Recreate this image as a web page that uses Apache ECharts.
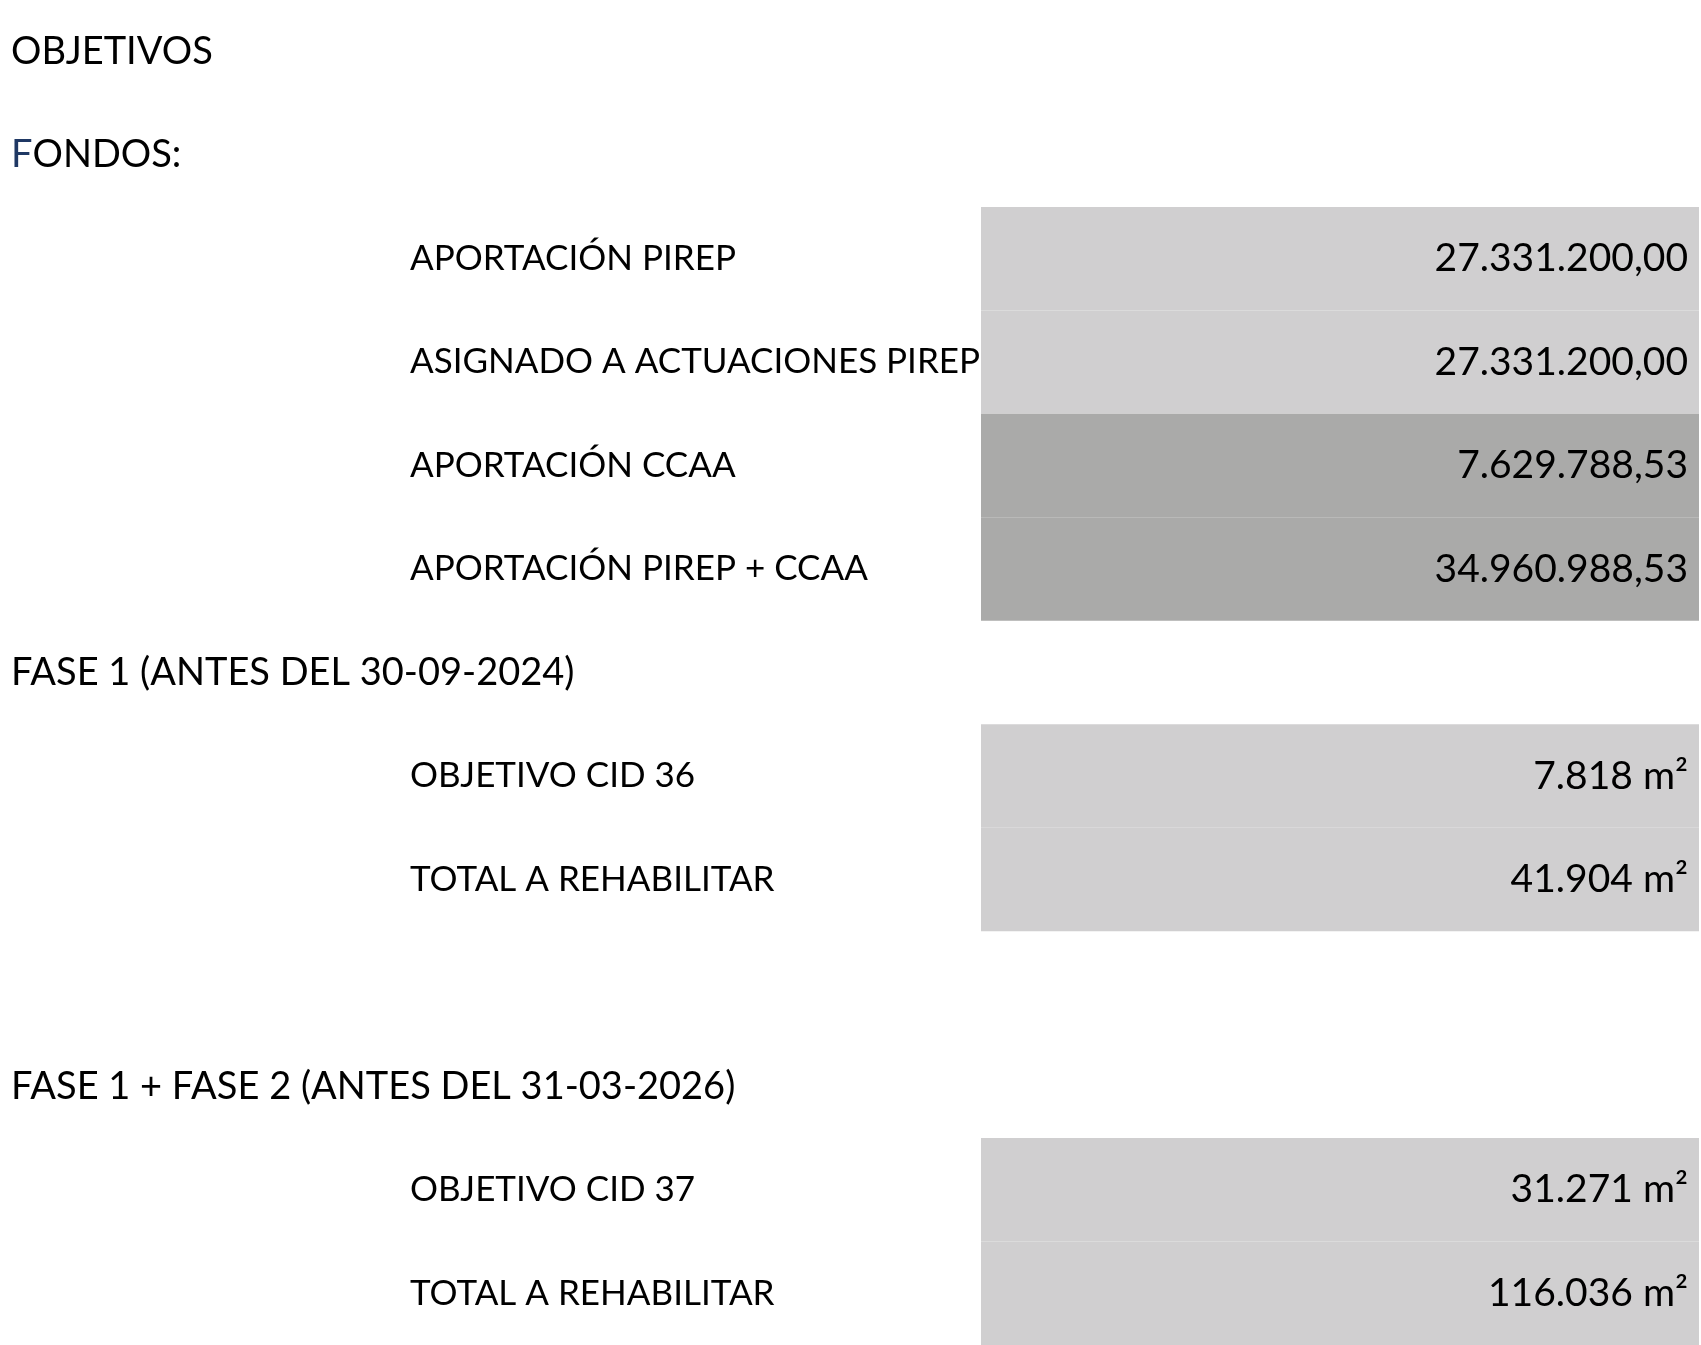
<!DOCTYPE html>
<html><head><meta charset="utf-8">
<script src="https://cdn.jsdelivr.net/npm/echarts@6/dist/echarts.min.js"></script>
<style>html,body{margin:0;padding:0;background:#fff}#c{width:1701px;height:1345px}</style>
</head><body><div id="c"></div>
<script>
const headerRows = [0, 1, 6, 10];
const headerTexts = ['OBJETIVOS', 'FONDOS:', 'FASE 1 (ANTES DEL 30-09-2024)', 'FASE 1 + FASE 2 (ANTES DEL 31-03-2026)'];
const itemRows = [2, 3, 4, 5, 7, 8, 11, 12];
const itemLabels = ['APORTACIÓN PIREP', 'ASIGNADO A ACTUACIONES PIREP', 'APORTACIÓN CCAA', 'APORTACIÓN PIREP + CCAA',
  'OBJETIVO CID 36', 'TOTAL A REHABILITAR', 'OBJETIVO CID 37', 'TOTAL A REHABILITAR'];
const itemValues = ['27.331.200,00', '27.331.200,00', '7.629.788,53', '34.960.988,53',
  '7.818 m²', '41.904 m²', '31.271 m²', '116.036 m²'];
const itemShade = ['light', 'light', 'dark', 'dark', 'light', 'light', 'light', 'light'];

const FONT = 'Lato, "Open Sans", sans-serif';
const shadeColor = { light: '#d0cfd0', dark: '#aaaaa9' };

const chart = echarts.init(document.getElementById('c'));
chart.setOption({
  animation: false,
  grid: { left: 0, right: 0, top: -20, bottom: -8 },
  xAxis: { type: 'value', min: 0, max: 1701, show: false },
  yAxis: { type: 'value', min: -0.5, max: 12.5, inverse: true, show: false },
  series: [
    {
      type: 'custom',
      data: itemRows.map((r, i) => [r, i]),
      renderItem: function (params, api) {
        const row = api.value(0), i = api.value(1);
        const tl = api.coord([981, row - 0.5]);
        const br = api.coord([1699, row + 0.5]);
        const mid = api.coord([410, row]);
        const vr = api.coord([1688, row]);
        return {
          type: 'group',
          children: [
            { type: 'rect', shape: { x: tl[0], y: tl[1], width: br[0] - tl[0], height: br[1] - tl[1] },
              style: { fill: shadeColor[itemShade[i]] } },
            { type: 'text', x: mid[0], y: mid[1],
              style: { text: itemLabels[i], font: '35px ' + FONT, fill: '#000', verticalAlign: 'middle', align: 'left' } },
            { type: 'text', x: vr[0], y: vr[1],
              style: { text: itemValues[i], font: '39px ' + FONT, fill: '#000', verticalAlign: 'middle', align: 'right' } }
          ]
        };
      }
    },
    {
      type: 'custom',
      data: headerRows.map((r, i) => [r, i]),
      renderItem: function (params, api) {
        const row = api.value(0), i = api.value(1);
        const p = api.coord([11, row]);
        const t = headerTexts[i];
        if (t === 'FONDOS:') {
          return { type: 'text', x: p[0], y: p[1],
            style: { text: '{b|F}ONDOS:', font: '38px ' + FONT, fill: '#000', verticalAlign: 'middle',
              rich: { b: { fill: '#1f3864', font: '38px ' + FONT } } } };
        }
        return { type: 'text', x: p[0], y: p[1],
          style: { text: t, font: '38px ' + FONT, fill: '#000', verticalAlign: 'middle', align: 'left' } };
      }
    }
  ]
});
</script></body></html>
